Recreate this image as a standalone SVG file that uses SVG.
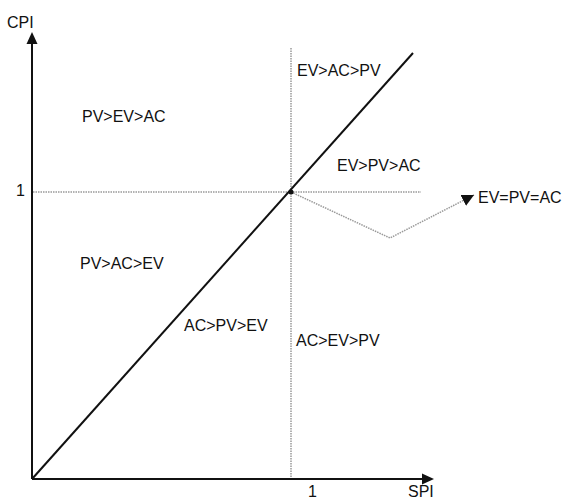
<svg xmlns="http://www.w3.org/2000/svg" width="563" height="501" viewBox="0 0 563 501">
<style>
text{font-family:"Liberation Sans",Arial,sans-serif;font-size:16px;fill:#111}
.ax{stroke:#111;stroke-width:2;fill:none}
.dot{stroke:#999;stroke-width:1.5;stroke-dasharray:1.5 1;fill:none}
.gr{stroke:#999;stroke-width:1.5;stroke-dasharray:1.5 1;fill:none}
</style>
<defs>
<marker id="ah" viewBox="0 0 10 10" refX="10" refY="5" markerWidth="12" markerHeight="12" markerUnits="userSpaceOnUse" orient="auto">
<path d="M0,0L10,5L0,10z" fill="#111"/>
</marker>
</defs>
<rect width="563" height="501" fill="#fff"/>
<g id="axes">
<line class="ax" x1="32" y1="479" x2="32" y2="42"/>
<path d="M32,32L26.5,44L37.5,44z" fill="#111"/>
<line class="ax" x1="32" y1="479" x2="423" y2="479"/>
<path d="M434,479L422,473.5L422,484.5z" fill="#111"/>
<text x="7" y="28">CPI</text>
<text x="408" y="497">SPI</text>
<text x="308" y="497">1</text>
<text x="16" y="196">1</text>
</g>
<g id="connectors">
<line class="dot" x1="291" y1="48" x2="291" y2="478"/>
<line class="dot" x1="33" y1="192" x2="421" y2="192"/>
<line x1="32" y1="479" x2="413" y2="53" stroke="#111" stroke-width="2"/>
<polyline class="gr" points="291,192 390,238 474,195" marker-end="url(#ah)"/>
<circle cx="291" cy="192" r="2.5" fill="#111"/>
</g>
<g id="labels">
<text x="82" y="122">PV&gt;EV&gt;AC</text>
<text x="297" y="76">EV&gt;AC&gt;PV</text>
<text x="337" y="171">EV&gt;PV&gt;AC</text>
<text x="80" y="269">PV&gt;AC&gt;EV</text>
<text x="184" y="331">AC&gt;PV&gt;EV</text>
<text x="296" y="346">AC&gt;EV&gt;PV</text>
<text x="478" y="203">EV=PV=AC</text>
</g>
</svg>
